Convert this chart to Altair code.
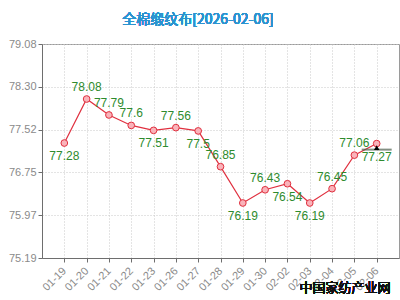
import altair as alt
import pandas as pd

dates = ["01-19", "01-20", "01-21", "01-22", "01-23", "01-26", "01-27", "01-28",
         "01-29", "01-30", "02-02", "02-03", "02-04", "02-05", "02-06"]
values = [77.28, 78.08, 77.79, 77.6, 77.51, 77.56, 77.5, 76.85,
          76.19, 76.43, 76.54, 76.19, 76.45, 77.06, 77.27]
label_side = ["below", "above", "above", "above", "below", "above", "below", "above",
              "below", "above", "below", "below", "above", "above", "below"]
y_ticks = [75.19, 75.97, 76.75, 77.52, 78.30, 79.08]
marker_date = ["02-06"]
marker_value = [77.16]
title_text = "全棉缎纹布[2026-02-06]"
watermark_text = "中国家纺产业网"

df = pd.DataFrame({"date": dates, "value": values, "side": label_side,
                   "label": [("%g" % v) for v in values]})
mk = pd.DataFrame({"date": marker_date, "value": marker_value})

x_enc = alt.X("date:N", sort=dates, scale=alt.Scale(type="point", padding=1),
              axis=alt.Axis(title=None, labelAngle=-45, labelAlign="right", labelBaseline="middle",
                            labelFontSize=11, labelColor="#8a8a8a", labelFont="Liberation Sans",
                            domainColor="#6e6e6e", tickColor="#6e6e6e", tickSize=4, labelPadding=7,
                            grid=True, gridColor="#c8c8c8", gridDash=[1, 2]))
y_scale = alt.Scale(domain=[75.19, 79.08], nice=False, zero=False)
y_enc = alt.Y("value:Q", scale=y_scale,
              axis=alt.Axis(title=None, values=y_ticks, format=".2f", labelFontSize=11,
                            labelColor="#8a8a8a", labelFont="Liberation Sans",
                            domainColor="#6e6e6e", tickColor="#6e6e6e", tickSize=4,
                            grid=True, gridColor="#c8c8c8", gridDash=[1, 2]))

base = alt.Chart(df)
line = base.mark_line(color="#e0303f", strokeWidth=1.2).encode(x=x_enc, y=y_enc)
pts = base.mark_point(shape="circle", filled=True, fill="#f9b3ba", stroke="#e0303f",
                      strokeWidth=1, size=45, opacity=1).encode(x="date:N", y="value:Q")
txt_above = base.transform_filter(alt.datum.side == "above").mark_text(
    dy=-12, fontSize=12, color="#2e8b2e", font="Liberation Sans").encode(
    x="date:N", y="value:Q", text="label:N")
txt_below = base.transform_filter(alt.datum.side == "below").mark_text(
    dy=13, fontSize=12, color="#2e8b2e", font="Liberation Sans").encode(
    x="date:N", y="value:Q", text="label:N")
mk_base = alt.Chart(mk)
mk_tick = mk_base.mark_tick(color="#4f5f4f", thickness=2, size=30, orient="horizontal").encode(
    x="date:N", y="value:Q")
mk_tri = mk_base.mark_point(shape="triangle-up", filled=True, color="black", size=30, opacity=1,
                            yOffset=-2).encode(x="date:N", y="value:Q")

title = alt.Chart(df).mark_text(text=title_text, fontSize=14, color="#2a93d0", fontWeight="normal",
                                font="Noto Sans CJK SC", baseline="middle").encode(
    x=alt.value(156), y=alt.value(-24))
wm = alt.Chart(df).mark_text(text=watermark_text, fontSize=13, color="#111111", fontWeight="normal",
                             font="Noto Sans CJK SC", baseline="middle").encode(
    x=alt.value(303), y=alt.value(244))

chart = alt.layer(line, pts, txt_above, txt_below, mk_tick, mk_tri, title, wm).properties(
    width=357, height=214,
    autosize=alt.AutoSizeParams(type="none"),
    padding={"left": 42, "top": 44, "right": 1, "bottom": 42},
    background="white",
).configure_view(stroke="#9a9a9a", strokeWidth=1)

chart.save("out.html", embed_options={"renderer": "svg", "actions": False})
